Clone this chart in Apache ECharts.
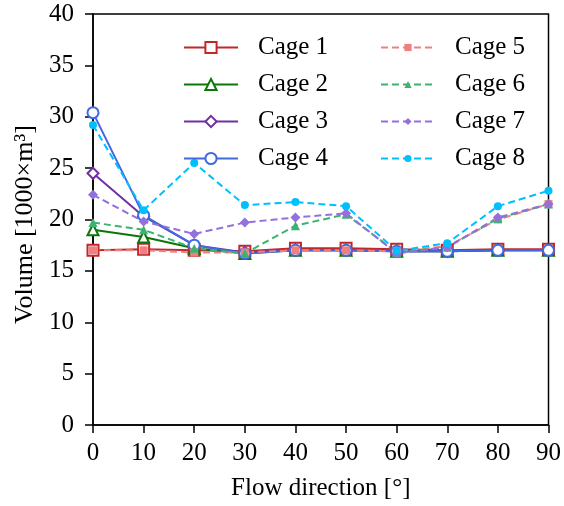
<!DOCTYPE html>
<html>
<head>
<meta charset="utf-8">
<script src="https://cdn.jsdelivr.net/npm/echarts@6/dist/echarts.min.js"></script>
<style>
  html, body { margin: 0; padding: 0; background: #fff; }
  #chart { width: 564px; height: 506px; }
</style>
</head>
<body>
<div id="chart"></div>
<script>
// Flow directions (degrees)
const directions = [0, 10, 20, 30, 40, 50, 60, 70, 80, 90];

// Cage volumes in units of 1000 m³
const cage1 = [17.0, 17.1, 17.0, 16.9, 17.2, 17.2, 17.1, 17.0, 17.1, 17.1];
const cage2 = [19.0, 18.3, 17.2, 16.7, 17.0, 17.0, 16.9, 16.9, 17.0, 17.0];
const cage3 = [24.5, 20.3, 17.5, 16.8, 17.0, 17.0, 16.9, 16.9, 17.0, 17.0];
const cage4 = [30.4, 20.4, 17.5, 16.7, 17.0, 17.0, 16.9, 16.9, 17.0, 17.0];
const cage5 = [17.0, 17.0, 16.8, 16.8, 17.0, 17.0, 16.9, 17.4, 20.0, 21.5];
const cage6 = [19.7, 19.0, 17.2, 16.7, 19.4, 20.5, 16.8, 17.3, 20.1, 21.5];
const cage7 = [22.4, 19.8, 18.6, 19.7, 20.2, 20.6, 16.7, 17.3, 20.2, 21.5];
const cage8 = [29.2, 20.9, 25.5, 21.4, 21.7, 21.3, 16.95, 17.7, 21.3, 22.8];

const yTicks = { min: 0, max: 40, interval: 5 };
const xTicks = { min: 0, max: 90, interval: 10 };

const FONT = '"Liberation Serif", "Times New Roman", serif';
const FONT_SIZE = 25;

function pairs(values) {
  return directions.map((d, i) => [d, values[i]]);
}

function solidSeries(name, values, color, symbol) {
  return {
    name, type: 'line', data: pairs(values),
    symbol, symbolSize: 11,
    lineStyle: { color, width: 2, type: 'solid' },
    itemStyle: { color: '#fff', borderColor: color, borderWidth: 2 },
    emphasis: { disabled: true }
  };
}

function dashedSeries(name, values, color, symbol, size) {
  return {
    name, type: 'line', data: pairs(values),
    symbol, symbolSize: size,
    lineStyle: { color, width: 2, type: [7, 4] },
    itemStyle: { color, borderColor: color, borderWidth: 0 },
    emphasis: { disabled: true }
  };
}

const series = [
  solidSeries('Cage 1', cage1, '#C0282C', 'rect'),
  solidSeries('Cage 2', cage2, '#0B760B', 'triangle'),
  solidSeries('Cage 3', cage3, '#7030A0', 'diamond'),
  solidSeries('Cage 4', cage4, '#4169E1', 'circle'),
  dashedSeries('Cage 5', cage5, '#F08080', 'rect', 8),
  dashedSeries('Cage 6', cage6, '#3CB371', 'triangle', 9),
  dashedSeries('Cage 7', cage7, '#9370DB', 'diamond', 10),
  dashedSeries('Cage 8', cage8, '#00BFFF', 'circle', 8)
];

function legend(names, left, markHeight) {
  return {
    data: names,
    orient: 'vertical',
    left, top: 35,
    padding: 0,
    itemWidth: 54, itemHeight: markHeight,
    itemGap: 12,
    textStyle: { fontFamily: FONT, fontSize: FONT_SIZE, color: '#000', padding: [0, 0, 0, 15], lineHeight: 25 },
    selectedMode: false
  };
}

const chart = echarts.init(document.getElementById('chart'), null, { renderer: 'canvas' });
chart.setOption({
  animation: false,
  backgroundColor: '#fff',
  grid: {
    left: 93, right: 14, top: 14, bottom: 81,
    show: true, borderColor: '#000', borderWidth: 1.5, backgroundColor: 'transparent'
  },
  legend: [
    legend(['Cage 1', 'Cage 2', 'Cage 3', 'Cage 4'], 183, 14),
    legend(['Cage 5', 'Cage 6', 'Cage 7', 'Cage 8'], 380, 9)
  ],
  xAxis: {
    type: 'value', min: xTicks.min, max: xTicks.max, interval: xTicks.interval,
    name: 'Flow direction [°]', nameLocation: 'middle', nameGap: 51,
    nameTextStyle: { fontFamily: FONT, fontSize: FONT_SIZE, color: '#000' },
    axisLine: { lineStyle: { color: '#000', width: 1.5 } },
    axisTick: { show: true, length: 8, inside: false, lineStyle: { color: '#000', width: 1.5 } },
    axisLabel: { fontFamily: FONT, fontSize: FONT_SIZE, color: '#000', margin: 16 },
    splitLine: { show: false }
  },
  yAxis: {
    type: 'value', min: yTicks.min, max: yTicks.max, interval: yTicks.interval,
    name: 'Volume [1000×m³]', nameLocation: 'middle', nameGap: 55,
    nameTextStyle: { fontFamily: FONT, fontSize: 26, color: '#000', padding: [0, 10, 0, 0] },
    axisLine: { lineStyle: { color: '#000', width: 1.5 } },
    axisTick: { show: true, length: 8, inside: false, lineStyle: { color: '#000', width: 1.5 } },
    axisLabel: { fontFamily: FONT, fontSize: FONT_SIZE, color: '#000', margin: 19 },
    splitLine: { show: false }
  },
  series
});
</script>
</body>
</html>
